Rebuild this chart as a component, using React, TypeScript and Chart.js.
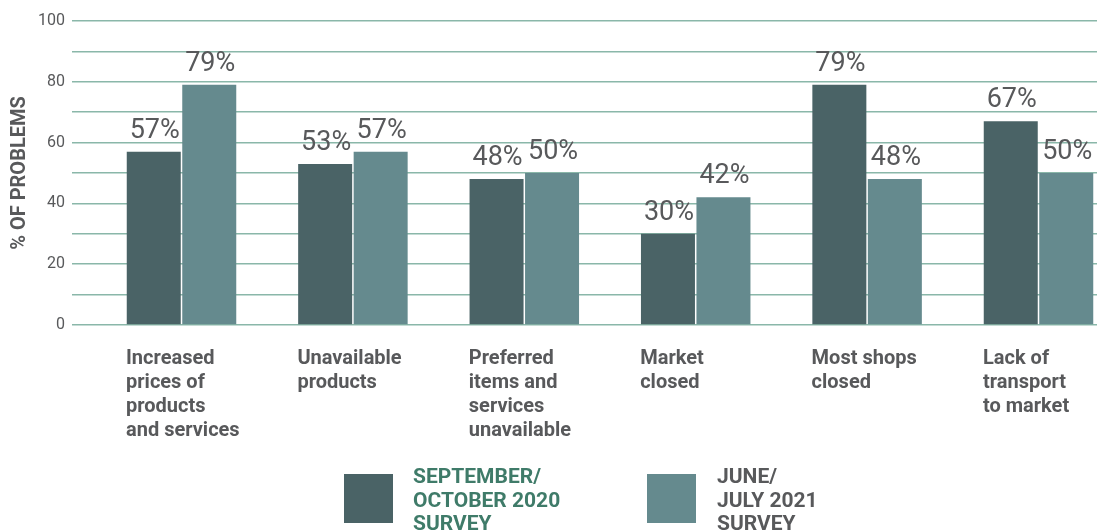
import React, { useEffect, useRef } from "react";
import { Chart, registerables } from "chart.js";

Chart.register(...registerables);

const categories: string[][] = [
  ["Increased", "prices of", "products", "and services"],
  ["Unavailable", "products"],
  ["Preferred", "items and", "services", "unavailable"],
  ["Market", "closed"],
  ["Most shops", "closed"],
  ["Lack of", "transport", "to market"],
];
const series2020: number[] = [57, 53, 48, 30, 79, 67];
const series2021: number[] = [79, 57, 50, 42, 48, 50];
const seriesLabels: string[][] = [
  ["SEPTEMBER/", "OCTOBER 2020", "SURVEY"],
  ["JUNE/", "JULY 2021", "SURVEY"],
];
const yTicks: number[] = [0, 20, 40, 60, 80, 100];

const DARK = "#4a6366";
const LIGHT = "#658a8e";
const TEXT = "#58595b";
const GREEN = "#3f7b69";
const GRID = "#8ab7a9";
const FONT = "Roboto";

const valueLabels = {
  id: "valueLabels",
  afterDatasetsDraw(chart: any) {
    const ctx = chart.ctx;
    ctx.save();
    ctx.font = `400 27px ${FONT}`;
    ctx.fillStyle = TEXT;
    ctx.textAlign = "center";
    ctx.textBaseline = "alphabetic";
    chart.data.datasets.forEach((ds: any, di: number) => {
      const meta = chart.getDatasetMeta(di);
      meta.data.forEach((el: any, i: number) => {
        ctx.fillText(`${ds.data[i].y}%`, el.x + 1, el.y - 14);
      });
    });
    ctx.restore();
  },
};

const customLegend = {
  id: "customLegend",
  afterDraw(chart: any) {
    const ctx = chart.ctx;
    const boxes = [
      { x: 344, text: 413, color: GREEN },
      { x: 647, text: 717, color: TEXT },
    ];
    ctx.save();
    chart.data.datasets.forEach((ds: any, di: number) => {
      const b = boxes[di];
      ctx.fillStyle = ds.backgroundColor;
      ctx.fillRect(b.x, 474, 49, 49);
      ctx.font = `700 21px ${FONT}`;
      ctx.fillStyle = b.color;
      ctx.textAlign = "left";
      ctx.textBaseline = "alphabetic";
      (ds.label as string[]).forEach((line: string, li: number) => {
        ctx.fillText(line, b.text, 483 + li * 23.5);
      });
    });
    ctx.restore();
  },
};

export default function App() {
  const ref = useRef<HTMLCanvasElement>(null);
  useEffect(() => {
    if (!ref.current) return;
    const groupHalf = 0.3238;
    const chart = new Chart(ref.current, {
      type: "bar",
      data: {
        datasets: [
          {
            label: seriesLabels[0] as any,
            data: series2020.map((v, i) => ({ x: i, y: v })),
            backgroundColor: DARK,
            categoryPercentage: 0.6476,
            barPercentage: 0.973,
          },
          {
            label: seriesLabels[1] as any,
            data: series2021.map((v, i) => ({ x: i, y: v })),
            backgroundColor: LIGHT,
            categoryPercentage: 0.6476,
            barPercentage: 0.973,
          },
        ],
      },
      options: {
        animation: false,
        responsive: false,
        maintainAspectRatio: false,
        layout: { padding: { top: 21, right: 0, left: 0, bottom: 0 } },
        plugins: {
          legend: { display: false },
          tooltip: { enabled: false },
        },
        scales: {
          x: {
            type: "linear",
            min: -0.6389,
            max: 5.3413,
            bounds: "data",
            offset: false,
            grid: { display: false, offset: false },
            border: { display: false },
            afterBuildTicks: (scale: any) => {
              scale.ticks = categories.map((_, i) => ({ value: i - groupHalf }));
            },
            afterFit: (scale: any) => {
              scale.height = 205;
              scale.paddingLeft = 0;
              scale.paddingRight = 0;
            },
            ticks: {
              autoSkip: false,
              maxRotation: 0,
              minRotation: 0,
              align: "start",
              padding: 14,
              color: TEXT,
              font: { family: FONT, size: 20, weight: "bold", lineHeight: 1.2 },
              callback: (_v: any, index: number) => categories[index],
            },
          },
          y: {
            min: 0,
            max: 100,
            grid: { color: GRID, lineWidth: 1.5, drawTicks: false },
            border: { display: false },
            afterFit: (scale: any) => {
              scale.width = 72;
            },
            ticks: {
              stepSize: 10,
              padding: 7,
              color: TEXT,
              font: { family: FONT, size: 16 },
              callback: (v: any) => (yTicks.includes(Number(v)) ? String(v) : ""),
            },
            title: {
              display: true,
              text: "% OF PROBLEMS",
              color: TEXT,
              font: { family: FONT, size: 20, weight: "bold" },
              padding: { top: 8, bottom: 0 },
            },
          },
        },
      },
      plugins: [valueLabels, customLegend],
    });
    return () => chart.destroy();
  }, []);
  return (
    <div style={{ position: "absolute", left: 0, top: 0, width: 1097, height: 530, background: "#fff" }}>
      <canvas ref={ref} width={1097} height={530} style={{ width: 1097, height: 530, display: "block" }} />
    </div>
  );
}
